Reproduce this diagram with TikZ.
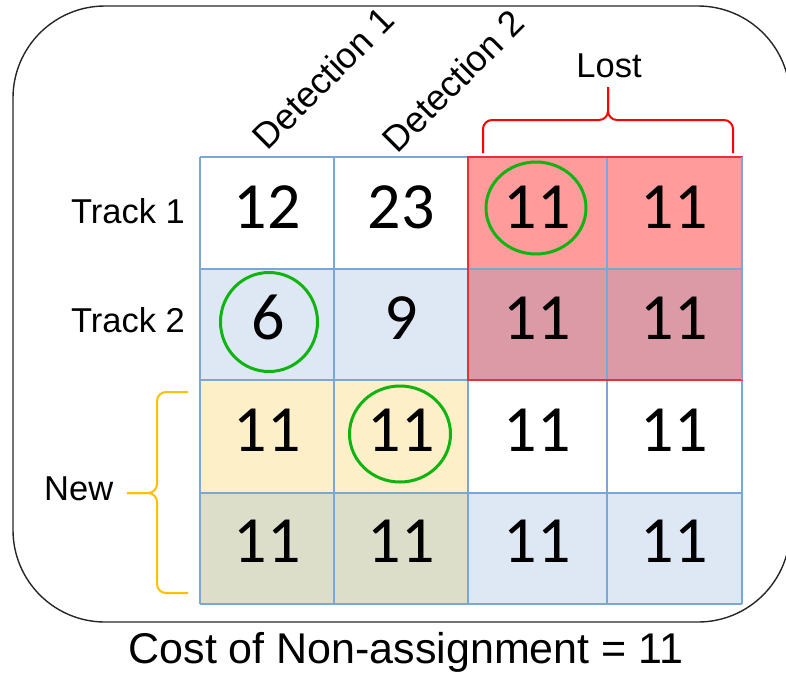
\documentclass[tikz,border=0pt]{standalone}
\usepackage{fontspec}
\setmainfont{Liberation Sans}
\newfontfamily\numfont{Carlito}
\usetikzlibrary{shapes.geometric}
\definecolor{gridblue}{HTML}{7AA6D8}
\definecolor{cellred}{HTML}{FF9B9B}
\definecolor{cellpink}{HTML}{DC9AA6}
\definecolor{cellblue}{HTML}{DEE8F5}
\definecolor{cellyellow}{HTML}{FDEFC7}
\definecolor{cellolive}{HTML}{DDDEC9}
\definecolor{circgreen}{HTML}{10B410}
\definecolor{braceyellow}{HTML}{FFC000}
\definecolor{lostred}{HTML}{E8303A}
\begin{document}
\begin{tikzpicture}[x=1pt,y=-1pt,
  num/.style={font=\numfont\fontsize{66}{70}\selectfont, anchor=base, inner sep=0pt},
  lab/.style={font=\fontsize{34.5}{38}\selectfont, inner sep=0pt},
  ring/.style={draw=circgreen, line width=3pt, ellipse, inner sep=0pt},
  gridline/.style={draw=gridblue, line width=1.2pt},
  brace/.style={line width=2pt, rounded corners=9pt}]
\useasboundingbox (0,0) rectangle (786,673);
\clip (0,0) rectangle (786,673);
% outer frame
\draw[line width=1.4pt, draw=black!85, rounded corners=92pt] (13,6) rectangle (790,622);
% cell fills
\fill[cellred] (468,157) rectangle (742,269);
\fill[cellpink] (468,269) rectangle (742,380);
\fill[cellblue] (200,269) rectangle (468,380);
\fill[cellyellow] (200,380) rectangle (468,493);
\fill[cellolive] (200,493) rectangle (468,604);
\fill[cellblue] (468,493) rectangle (742,604);
% grid
\foreach \x in {200,334,468,607,742} \draw[gridline] (\x,157) -- (\x,604);
\foreach \y in {157,380,493,604} \draw[gridline] (200,\y) -- (742,\y);
\draw[gridline, line width=2pt] (200,269) -- (742,269);
% lost region border
\draw[lostred, line width=1.6pt] (468,157) rectangle (742,380);
\draw[gridline] (742,157) -- (742,380);
% numbers
\node[num] (n11) at (267,228) {12};
\node[num] (n12) at (401,228) {23};
\node[num] (n13) at (537,228) {11};
\node[num] (n14) at (674,228) {11};
\node[num] (n21) at (268,339) {6};
\node[num] (n22) at (401,339) {9};
\node[num] (n23) at (537,339) {11};
\node[num] (n24) at (674,339) {11};
\node[num] (n31) at (267,451) {11};
\node[num] (n32) at (401,451) {11};
\node[num] (n33) at (537,451) {11};
\node[num] (n34) at (674,451) {11};
\node[num] (n41) at (267,562) {11};
\node[num] (n42) at (401,562) {11};
\node[num] (n43) at (537,562) {11};
\node[num] (n44) at (674,562) {11};
% green circles
\node[ring, minimum width=100pt, minimum height=92pt] (r1) at (536,208) {};
\node[ring, minimum width=97pt, minimum height=99pt] (r2) at (269,322) {};
\node[ring, minimum width=101pt, minimum height=96pt] (r3) at (400,434) {};
% labels
\node[lab, anchor=base east] (t1) at (185,223) {Track 1};
\node[lab, anchor=base east] (t2) at (185,332) {Track 2};
\node[lab, anchor=base west] (new) at (44,500) {New};
\node[lab, anchor=base] (lost) at (609,77) {Lost};
\node[lab, rotate=45, font=\fontsize{36}{40}\selectfont] (d1) at (323,78) {Detection 1};
\node[lab, rotate=45, font=\fontsize{36}{40}\selectfont] (d2) at (453,81) {Detection 2};
% braces
\draw[brace, red] (483,153) -- (483,120) -- (608,120) -- (608,87);
\draw[brace, red] (733,153) -- (733,120) -- (608,120) -- (608,87);
\draw[brace, braceyellow] (188,392) -- (157,392) -- (157,493) -- (127,493);
\draw[brace, braceyellow] (188,593) -- (157,593) -- (157,493) -- (127,493);
% bottom caption
\node[font=\fontsize{43}{46}\selectfont, anchor=base, inner sep=0pt] (cost) at (406,663) {Cost of Non-assignment = 11};
\end{tikzpicture}
\end{document}
